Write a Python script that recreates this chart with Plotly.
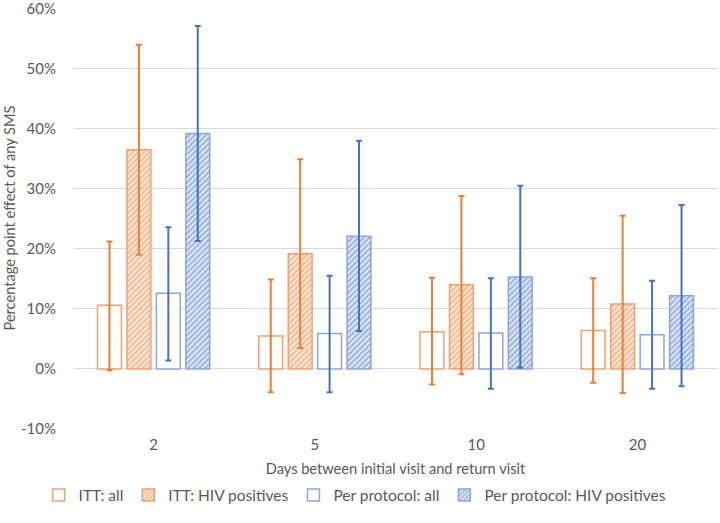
import plotly.graph_objects as go

categories = ["2", "5", "10", "20"]

itt_all = [0.106, 0.055, 0.062, 0.064]
itt_all_hi = [0.212, 0.149, 0.152, 0.151]
itt_all_lo = [-0.002, -0.039, -0.026, -0.023]

itt_hiv = [0.365, 0.192, 0.140, 0.108]
itt_hiv_hi = [0.540, 0.349, 0.288, 0.255]
itt_hiv_lo = [0.190, 0.035, -0.009, -0.040]

pp_all = [0.126, 0.059, 0.060, 0.057]
pp_all_hi = [0.236, 0.155, 0.151, 0.147]
pp_all_lo = [0.014, -0.039, -0.033, -0.033]

pp_hiv = [0.392, 0.221, 0.153, 0.122]
pp_hiv_hi = [0.571, 0.380, 0.305, 0.273]
pp_hiv_lo = [0.213, 0.063, 0.002, -0.029]

names = ["ITT: all", "ITT: HIV positives", "Per protocol: all", "Per protocol: HIV positives"]

y_tickvals = [-0.1, 0.0, 0.1, 0.2, 0.3, 0.4, 0.5, 0.6]
y_ticktext = ["-10%", "0%", "10%", "20%", "30%", "40%", "50%", "60%"]

ORANGE = "#ED7D31"
BLUE = "#4472C4"
ORANGE_L = "#F1A06B"
BLUE_L = "#8AA6DA"

series = [
    (names[0], itt_all, itt_all_hi, itt_all_lo, ORANGE, ORANGE_L, False),
    (names[1], itt_hiv, itt_hiv_hi, itt_hiv_lo, ORANGE, ORANGE_L, True),
    (names[2], pp_all, pp_all_hi, pp_all_lo, BLUE, BLUE_L, False),
    (names[3], pp_hiv, pp_hiv_hi, pp_hiv_lo, BLUE, BLUE_L, True),
]

fig = go.Figure()
for name, vals, hi, lo, col, col_l, hatch in series:
    up = [h - v for h, v in zip(hi, vals)]
    down = [v - l for l, v in zip(lo, vals)]
    marker = dict(color="white", line=dict(color=col_l, width=1.5))
    if hatch:
        marker["pattern"] = dict(shape="/", fgcolor=col, bgcolor="white", size=4, solidity=0.7)
    fig.add_trace(go.Bar(
        name=name, x=categories, y=vals, marker=marker,
        error_y=dict(type="data", symmetric=False, array=up, arrayminus=down,
                     color=col, thickness=2, width=3),
    ))

font_family = "Lato, 'Open Sans', sans-serif"
fig.update_layout(
    width=720, height=523,
    margin=dict(l=73, r=2, t=8, b=94, autoexpand=False),
    paper_bgcolor="white", plot_bgcolor="white",
    barmode="group", bargap=0.27, bargroupgap=0.19,
    font=dict(family=font_family, size=15, color="#595959"),
    showlegend=True,
    legend=dict(orientation="h", x=0.4374, xanchor="center", y=-0.158, yanchor="middle",
                font=dict(size=15.5, color="#595959"), itemwidth=30,
                traceorder="normal"),
    xaxis=dict(showgrid=False, showline=False, ticks="", ticklabelstandoff=5,
               automargin=False, tickfont=dict(size=15),
               title=dict(text="Days between initial visit and return visit",
                          font=dict(size=14.6, color="#595959"), standoff=11)),
    yaxis=dict(range=[-0.1, 0.601], tickvals=y_tickvals, ticktext=y_ticktext,
               gridcolor="#D9D9D9", gridwidth=1, zeroline=True,
               zerolinecolor="#D9D9D9", zerolinewidth=1, showline=False,
               automargin=False, ticklabeloverflow="allow",
               ticklabelstandoff=16, tickfont=dict(size=15)),
    annotations=[dict(text="Percentage point effect of any SMS", textangle=-90,
                      xref="paper", yref="paper", x=-64 / 645, y=0.5,
                      xanchor="center", yanchor="middle", showarrow=False,
                      font=dict(size=14.6, color="#595959"))],
)

fig.write_html("out.html", config={"displayModeBar": False},
               post_script="document.body.style.margin='0';")
